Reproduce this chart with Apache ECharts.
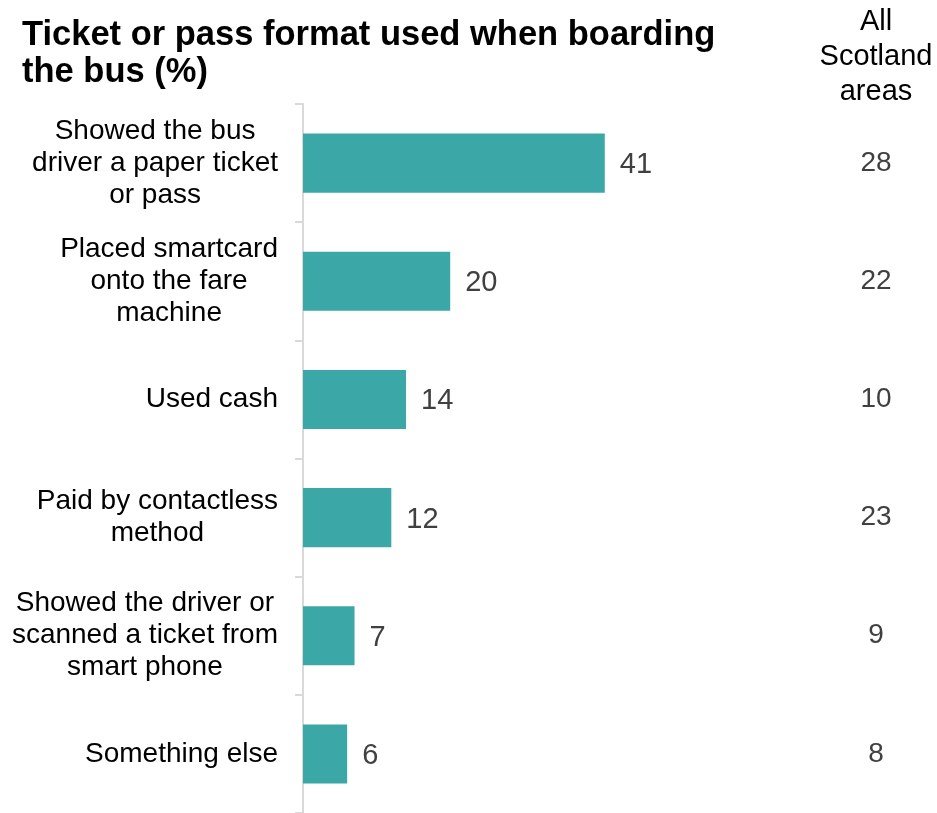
<!DOCTYPE html>
<html>
<head>
<meta charset="utf-8">
<script src="https://cdn.jsdelivr.net/npm/echarts@6/dist/echarts.min.js"></script>
<style>
  html, body { margin: 0; padding: 0; background: #ffffff; }
  #chart { width: 937px; height: 813px; }
</style>
</head>
<body>
<div id="chart"></div>
<script>
// Ticket or pass formats, share of respondents (%)
const categories = [
  'Showed the bus\ndriver a paper ticket\nor pass',
  'Placed smartcard\nonto the fare\nmachine',
  'Used cash',
  'Paid by contactless\nmethod',
  'Showed the driver or\nscanned a ticket from\nsmart phone',
  'Something else'
];
const areaValues = [41, 20, 14, 12, 7, 6];
const scotlandValues = [28, 22, 10, 23, 9, 8];

const FONT = '"Liberation Sans", Arial, sans-serif';
const chart = echarts.init(document.getElementById('chart'), null, { renderer: 'canvas' });

chart.setOption({
  backgroundColor: '#ffffff',
  animation: false,
  textStyle: { fontFamily: FONT },
  title: [
    {
      text: 'Ticket or pass format used when boarding\nthe bus (%)',
      left: 22, top: 17, padding: 0,
      textStyle: { fontFamily: FONT, fontSize: 34.5, fontWeight: 'bold', color: '#000000', lineHeight: 37 }
    },
    {
      text: 'All\nScotland\nareas',
      left: 876, top: 4, padding: 0, textAlign: 'center',
      textStyle: { fontFamily: FONT, fontSize: 29, fontWeight: 'normal', color: '#000000', lineHeight: 35 }
    }
  ],
  grid: [
    { left: 303, top: 104, width: 368, height: 712, containLabel: false },
    { left: 836, top: 104, width: 80, height: 712, containLabel: false }
  ],
  xAxis: [
    { type: 'value', gridIndex: 0, min: 0, max: 50, show: false },
    { type: 'value', gridIndex: 1, min: 0, max: 1, show: false }
  ],
  yAxis: [
    {
      type: 'category', gridIndex: 0, data: categories, inverse: true,
      axisLine: { show: true, lineStyle: { color: '#d9d9d9', width: 2 } },
      axisTick: { show: true, length: 8, lineStyle: { color: '#d9d9d9', width: 2 } },
      axisLabel: {
        margin: 25, align: 'right',
        formatter: v => v.split('\n').map(l => '{c|' + l + '}').join('\n'),
        rich: { c: { align: 'center', fontFamily: FONT, fontSize: 28, lineHeight: 32, color: '#000000' } }
      }
    },
    {
      type: 'category', gridIndex: 1, data: categories, inverse: true, show: false
    }
  ],
  series: [
    {
      type: 'bar', xAxisIndex: 0, yAxisIndex: 0,
      data: areaValues, barCategoryGap: '50%',
      itemStyle: { color: '#3ba7a6' },
      label: {
        show: true, position: 'right', distance: 15, offset: [0, 2],
        fontFamily: FONT, fontSize: 29, color: '#404040'
      }
    },
    {
      type: 'scatter', xAxisIndex: 1, yAxisIndex: 1,
      data: scotlandValues.map((v, i) => [0.5, i, v]),
      symbolSize: 1, itemStyle: { color: 'rgba(0,0,0,0)', opacity: 1 },
      label: {
        show: true, position: 'inside', opacity: 1,
        formatter: p => String(p.value[2]),
        fontFamily: FONT, fontSize: 28, color: '#404040'
      }
    }
  ]
});
</script>
</body>
</html>
